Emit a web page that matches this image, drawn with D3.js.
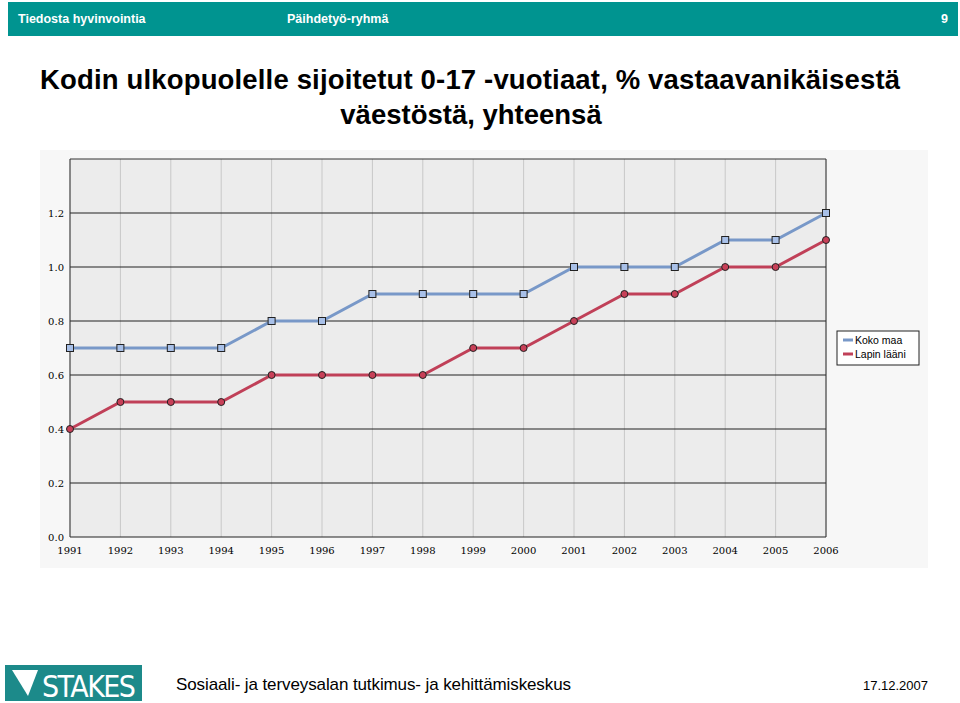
<!DOCTYPE html><html><head><meta charset="utf-8">
<script src="https://cdn.jsdelivr.net/npm/d3@7"></script>
<style>body{margin:0;background:#fff}svg{display:block}</style></head><body>
<svg id="c" width="960" height="703"></svg>
<script>
const years=["1991","1992","1993","1994","1995","1996","1997","1998","1999","2000","2001","2002","2003","2004","2005","2006"];
const kokoMaa=[0.7,0.7,0.7,0.7,0.8,0.8,0.9,0.9,0.9,0.9,1.0,1.0,1.0,1.1,1.1,1.2];
const lapinLaani=[0.4,0.5,0.5,0.5,0.6,0.6,0.6,0.6,0.7,0.7,0.8,0.9,0.9,1.0,1.0,1.1];
const yTicks=[0,0.2,0.4,0.6,0.8,1.0,1.2];
const svg=d3.select("#c");
const F="Liberation Sans, Arial, sans-serif";
svg.append("rect").attr("x",8).attr("y",2).attr("width",950).attr("height",34).attr("fill","#009490");
svg.append("text").attr("x",18).attr("y",23).attr("fill","#fff").attr("font-family",F).attr("font-size",12.5).attr("font-weight","bold").text("Tiedosta hyvinvointia");
svg.append("text").attr("x",287).attr("y",23).attr("fill","#fff").attr("font-family",F).attr("font-size",12.5).attr("font-weight","bold").text("Päihdetyö-ryhmä");
svg.append("text").attr("x",948).attr("y",23).attr("fill","#fff").attr("font-family",F).attr("font-size",12.5).attr("font-weight","bold").attr("text-anchor","end").text("9");
svg.append("text").attr("x",470).attr("y",89).attr("text-anchor","middle").attr("font-family",F).attr("font-weight","bold").attr("font-size",27.5).attr("textLength",860).text("Kodin ulkopuolelle sijoitetut 0-17 -vuotiaat, % vastaavanikäisestä");
svg.append("text").attr("x",471).attr("y",124).attr("text-anchor","middle").attr("font-family",F).attr("font-weight","bold").attr("font-size",27.5).text("väestöstä, yhteensä");
svg.append("rect").attr("x",40).attr("y",150).attr("width",888).attr("height",418).attr("fill","#f7f7f7");
const x=d3.scalePoint().domain(years).range([70,826]);
const y=d3.scaleLinear().domain([0,1.4]).range([537,159]);
svg.append("rect").attr("x",70).attr("y",159).attr("width",756).attr("height",378).attr("fill","#ececec");
const g=svg.append("g");
years.forEach(d=>g.append("line").attr("x1",x(d)).attr("x2",x(d)).attr("y1",159).attr("y2",537).attr("stroke","#c8c8c8"));
yTicks.forEach(t=>g.append("line").attr("x1",70).attr("x2",826).attr("y1",y(t)).attr("y2",y(t)).attr("stroke","#222"));
svg.append("line").attr("x1",70).attr("x2",826).attr("y1",159).attr("y2",159).attr("stroke","#333");
svg.append("line").attr("x1",70).attr("x2",70).attr("y1",159).attr("y2",537).attr("stroke","#333");
svg.append("line").attr("x1",826).attr("x2",826).attr("y1",159).attr("y2",537).attr("stroke","#333");
const tf="DejaVu Serif, serif";
yTicks.forEach(t=>svg.append("text").attr("x",64).attr("y",y(t)+4).attr("text-anchor","end").attr("font-family",tf).attr("font-size",10).text(t.toFixed(1)));
years.forEach(d=>svg.append("text").attr("x",x(d)).attr("y",554).attr("text-anchor","middle").attr("font-family",tf).attr("font-size",10).text(d));
const line=d3.line().x((d,i)=>x(years[i])).y(d=>y(d));
svg.append("path").datum(kokoMaa).attr("d",line).attr("fill","none").attr("stroke","#7898c8").attr("stroke-width",3);
svg.append("path").datum(lapinLaani).attr("d",line).attr("fill","none").attr("stroke","#c04058").attr("stroke-width",3);
svg.selectAll(".sq").data(kokoMaa).enter().append("rect").attr("x",(d,i)=>x(years[i])-3.5).attr("y",d=>y(d)-3.5).attr("width",7).attr("height",7).attr("fill","#a8c0e8").attr("stroke","#222");
svg.selectAll(".ci").data(lapinLaani).enter().append("circle").attr("cx",(d,i)=>x(years[i])).attr("cy",d=>y(d)).attr("r",3.5).attr("fill","#c84058").attr("stroke","#222");
const lg=svg.append("g");
lg.append("rect").attr("x",837).attr("y",331).attr("width",82).attr("height",34).attr("fill","#fff").attr("stroke","#222");
[["Koko maa","#7898c8"],["Lapin lääni","#c04058"]].forEach((s,i)=>{
 lg.append("line").attr("x1",843).attr("x2",853).attr("y1",340+i*14).attr("y2",340+i*14).attr("stroke",s[1]).attr("stroke-width",3);
 lg.append("text").attr("x",855).attr("y",344+i*14).attr("font-family",F).attr("font-size",10.5).text(s[0]);
});
svg.append("rect").attr("x",5).attr("y",665).attr("width",137).attr("height",36).attr("fill","#1c8a8a");
svg.append("path").attr("d","M12 670 L38 670 L28 696 Z").attr("fill","#fff");
svg.append("text").attr("x",42).attr("y",697).attr("fill","#fff").attr("font-family","DejaVu Sans Condensed, sans-serif").attr("font-size",30).attr("textLength",94).attr("lengthAdjust","spacing").text("STAKES");
svg.append("text").attr("x",176).attr("y",690).attr("font-family",F).attr("font-size",17).attr("textLength",395).text("Sosiaali- ja terveysalan tutkimus- ja kehittämiskeskus");
svg.append("text").attr("x",928).attr("y",690).attr("text-anchor","end").attr("font-family",F).attr("font-size",13).text("17.12.2007");
</script></body></html>
